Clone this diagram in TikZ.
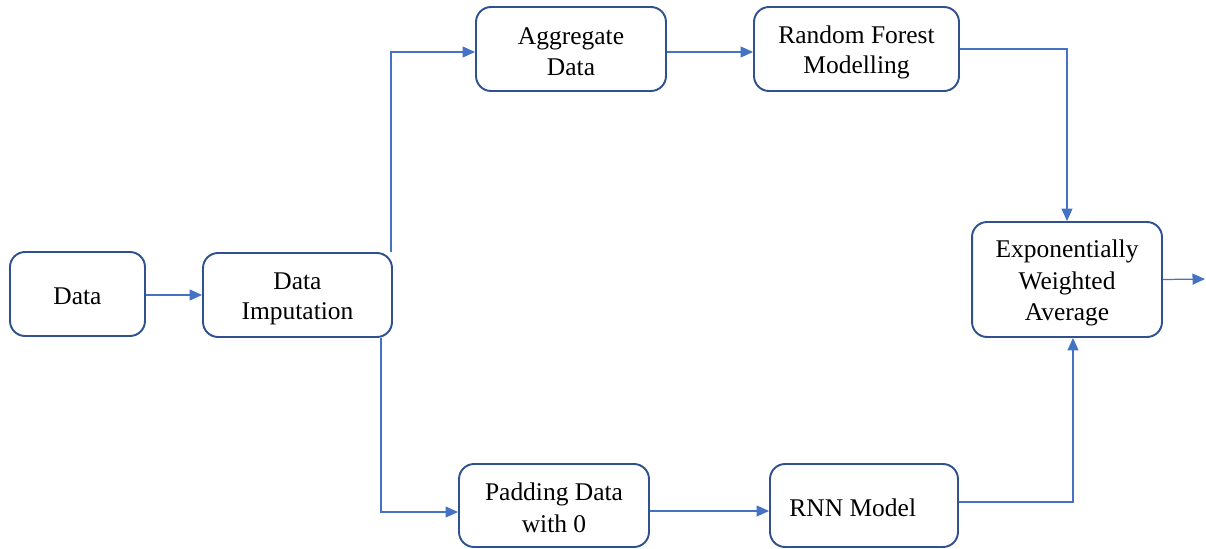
\documentclass[tikz,border=0pt]{standalone}
\usepackage{fontspec}
\setmainfont{Liberation Serif}
\newfontfamily\stagefont{Liberation Serif}
\usetikzlibrary{arrows.meta,calc}
\definecolor{boxline}{HTML}{2F528F}
\definecolor{flow}{HTML}{4472C4}
% fixed line extents so every label sits at the same height in its box
\newcommand\sst{\rule[-1.5pt]{0pt}{15.5pt}}
\tikzset{
  stage/.style={draw=boxline, line width=1.1pt, fill=white, rounded corners=0.3cm,
    align=center, inner sep=2pt, font=\stagefont\fontsize{14.5pt}{17pt}\selectfont},
  arr/.style={draw=flow, line width=0.7pt, -{Triangle[length=0.25cm,width=0.22cm]}}
}
\begin{document}
\begin{tikzpicture}[x=0.02cm, y=-0.02cm]
\useasboundingbox (0,0) rectangle (1206,548);
% processing stages
\node[stage, minimum width=2.7cm, minimum height=1.68cm] (data) at (77.5,294) {\sst Data};
\node[stage, minimum width=3.78cm, minimum height=1.68cm] (imp) at (297.5,295) {\sst Data\\\sst Imputation};
\node[stage, minimum width=3.8cm, minimum height=1.68cm] (agg) at (571,49) {\sst Aggregate\\\sst Data};
\node[stage, minimum width=4.1cm, minimum height=1.68cm] (rf) at (856.5,49) {\sst Random Forest\\\sst Modelling};
\node[stage, minimum width=3.8cm, minimum height=2.3cm] (ewa) at (1067,279.5) {\sst Exponentially\\\sst Weighted\\\sst Average};
\node[stage, minimum width=3.8cm, minimum height=1.66cm] (pad) at (554,505.5) {\sst Padding Data\\\sst with 0};
\node[stage, minimum width=3.76cm, minimum height=1.66cm] (rnn) at (864,505.5) {\sst\hspace*{-0.45cm}RNN Model};
\coordinate (out) at (1205,279);
% flow between stages
\draw[arr] (data.east |- imp.west) -- (imp.west);
\draw[arr] ($(imp.north east)+(-2,0)$) |- ($(agg.west)+(0,3)$);
\draw[arr] ($(imp.south east)+(-12,0)$) |- ($(pad.west)+(0,6.5)$);
\draw[arr] ($(agg.east)+(0,3)$) -- ($(rf.west)+(0,3)$);
\draw[arr] ($(pad.east)+(0,5.5)$) -- ($(rnn.west)+(0,5.5)$);
\draw[arr] (rf.east) -| (ewa.north);
\draw[arr] ($(rnn.east)+(0,-3.5)$) -| ($(ewa.south)+(6,0)$);
\draw[arr] (ewa.east) -- (out);
\end{tikzpicture}
\end{document}
